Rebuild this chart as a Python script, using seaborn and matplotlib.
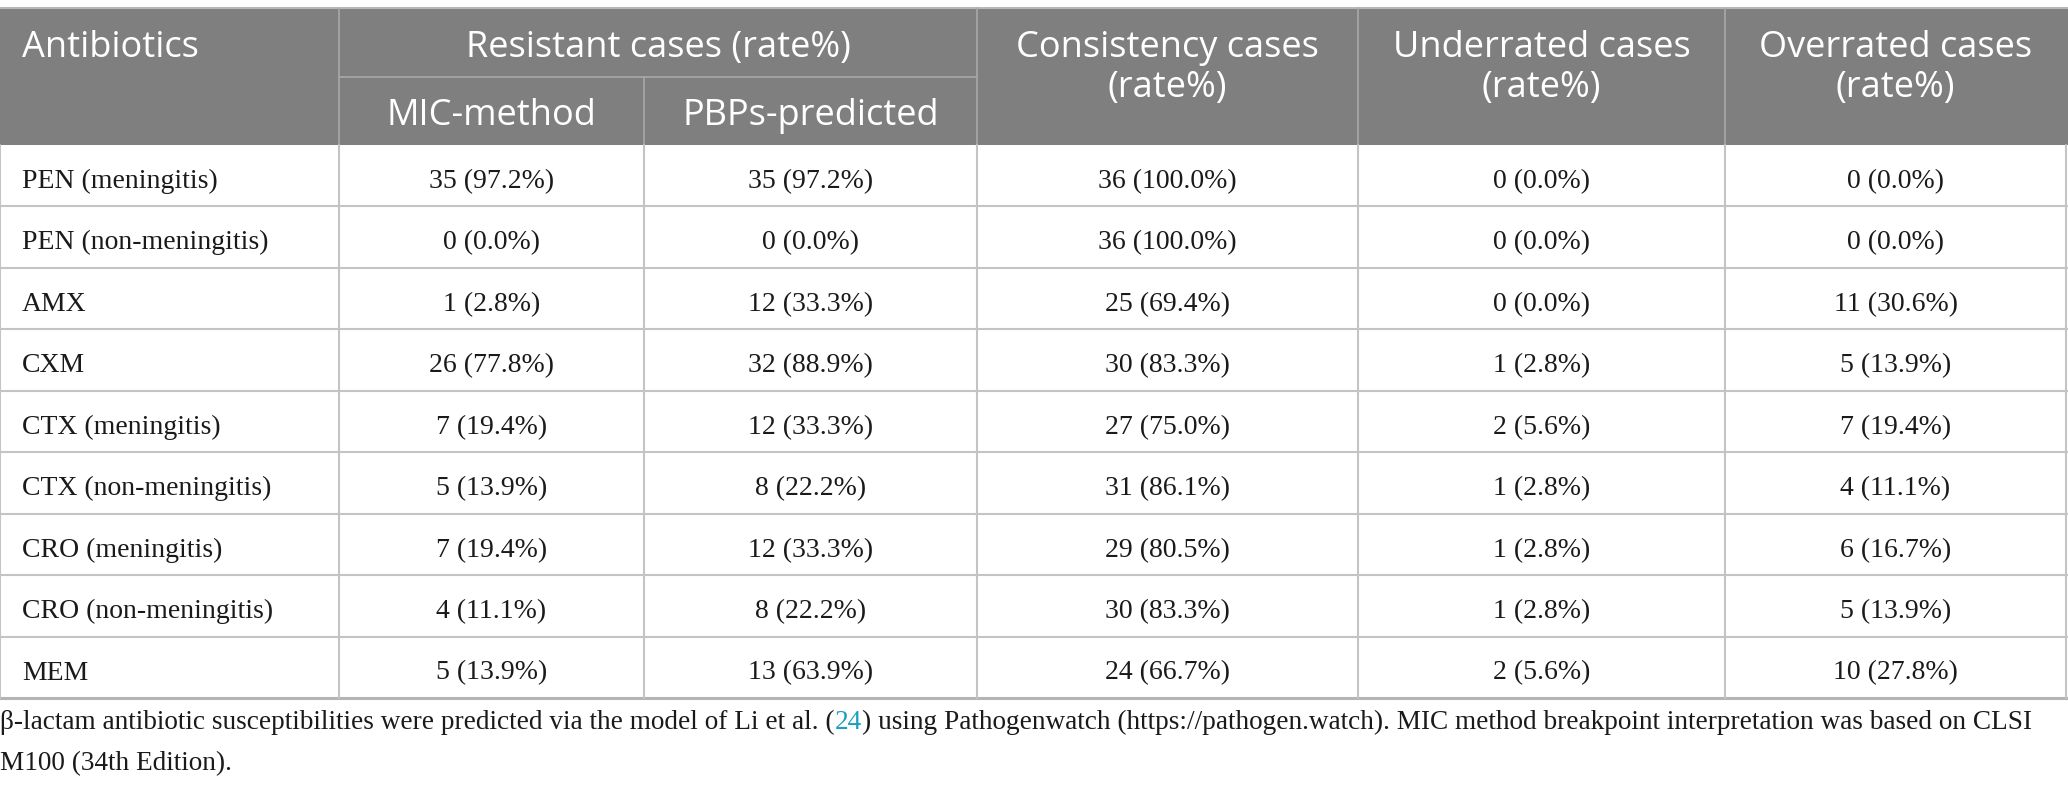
import matplotlib
matplotlib.use("Agg")
import matplotlib.pyplot as plt
from matplotlib.patches import Rectangle
import seaborn as sns

# ---------------- data ----------------
antibiotics = ["PEN (meningitis)", "PEN (non-meningitis)", "AMX", "CXM",
               "CTX (meningitis)", "CTX (non-meningitis)", "CRO (meningitis)",
               "CRO (non-meningitis)", "MEM"]
mic_n = [35, 0, 1, 26, 7, 5, 7, 4, 5]
mic_pct = [97.2, 0.0, 2.8, 77.8, 19.4, 13.9, 19.4, 11.1, 13.9]
pbp_n = [35, 0, 12, 32, 12, 8, 12, 8, 13]
pbp_pct = [97.2, 0.0, 33.3, 88.9, 33.3, 22.2, 33.3, 22.2, 63.9]
cons_n = [36, 36, 25, 30, 27, 31, 29, 30, 24]
cons_pct = [100.0, 100.0, 69.4, 83.3, 75.0, 86.1, 80.5, 83.3, 66.7]
under_n = [0, 0, 0, 1, 2, 1, 1, 1, 2]
under_pct = [0.0, 0.0, 0.0, 2.8, 5.6, 2.8, 2.8, 2.8, 5.6]
over_n = [0, 0, 11, 5, 7, 4, 6, 5, 10]
over_pct = [0.0, 0.0, 30.6, 13.9, 19.4, 11.1, 16.7, 13.9, 27.8]

header_first = "Antibiotics"
header_group = "Resistant cases (rate%)"
header_sub = ["MIC-method", "PBPs-predicted"]
header_right = [["Consistency cases", "(rate%)"], ["Underrated cases", "(rate%)"],
                ["Overrated cases", "(rate%)"]]
caption_parts = ["β-lactam antibiotic susceptibilities were predicted via the model of Li et al. (",
                 "24",
                 ") using Pathogenwatch (https://pathogen.watch). MIC method breakpoint interpretation was based on CLSI"]
caption_line2 = "M100 (34th Edition)."

# ---------------- style ----------------
sns.set_theme(style="white")
W, H = 2068, 792
fig = plt.figure(figsize=(W / 100, H / 100), dpi=100)
ax = fig.add_axes([0, 0, 1, 1])
ax.set_xlim(0, W)
ax.set_ylim(H, 0)
ax.axis("off")

HEAD_FONT = ["Open Sans", "DejaVu Sans"]
BODY_FONT = ["Liberation Serif", "DejaVu Serif"]
HEAD_BG = "#7f7f7f"
GRID = "#c4c4c4"
HEAD_LINE = "#a9a9a9"

col_x = [0, 339, 644, 977, 1358, 1725, 2066]
top, mid, head_bot = 8, 77, 145
row_h = (698 - head_bot) / 9
row_y = [head_bot + i * row_h for i in range(10)]

# header background
ax.add_patch(Rectangle((0, top), W, head_bot - top, facecolor=HEAD_BG, edgecolor="none"))
ax.plot([0, W], [top, top], color="#b8b8b8", lw=1.5)
# header separators
for x in col_x[1:-1]:
    y0 = top if x in (339, 977, 1358, 1725) else mid
    ax.plot([x, x], [y0, head_bot], color=HEAD_LINE, lw=1.2)
ax.plot([339, 977], [mid, mid], color=HEAD_LINE, lw=1.2)

hs = 26.0
b1, b2, b3 = 57, 97, 125
ax.text(22, b1, header_first, ha="left", va="baseline", color="white",
        fontsize=hs, family=HEAD_FONT)
ax.text((339 + 977) / 2, b1, header_group, ha="center", va="baseline",
        color="white", fontsize=hs, family=HEAD_FONT)
for i, t in enumerate(header_sub):
    ax.text((col_x[1 + i] + col_x[2 + i]) / 2, b3, t, ha="center",
            va="baseline", color="white", fontsize=hs, family=HEAD_FONT)
for i, (la, lb) in enumerate(header_right):
    xc = (col_x[3 + i] + col_x[4 + i]) / 2
    ax.text(xc, b1, la, ha="center", va="baseline", color="white", fontsize=hs,
            family=HEAD_FONT)
    ax.text(xc, b2, lb, ha="center", va="baseline", color="white", fontsize=hs,
            family=HEAD_FONT)

# body grid
for y in row_y[1:-1]:
    ax.plot([0, W], [y, y], color=GRID, lw=1.5)
ax.plot([0, W], [row_y[-1], row_y[-1]], color="#b4b4b4", lw=2.2)
for x in col_x:
    ax.plot([x, x], [head_bot, row_y[-1]], color=GRID, lw=1.5)

bs = 20
cols = [(mic_n, mic_pct), (pbp_n, pbp_pct), (cons_n, cons_pct),
        (under_n, under_pct), (over_n, over_pct)]
for r, name in enumerate(antibiotics):
    yb = row_y[r] + 43
    ax.text(22, yb, name, ha="left", va="baseline", color="#1a1a1a", fontsize=bs,
            family=BODY_FONT)
    for c, (ns, ps) in enumerate(cols):
        xc = (col_x[1 + c] + col_x[2 + c]) / 2
        ax.text(xc, yb, f"{ns[r]} ({ps[r]:.1f}%)", ha="center", va="baseline",
                color="#1a1a1a", fontsize=bs, family=BODY_FONT)

# caption
cs = 19.6
t1 = ax.text(0, 729, caption_parts[0], ha="left", va="baseline", color="#1a1a1a",
             fontsize=cs, family=BODY_FONT)
t2 = ax.annotate(caption_parts[1], xy=(1, 0), xycoords=t1, ha="left", va="bottom",
                 color="#1aa0bf", fontsize=cs, family=BODY_FONT)
t3 = ax.annotate(caption_parts[2], xy=(1, 0), xycoords=t2, ha="left", va="bottom",
                 color="#1a1a1a", fontsize=cs, family=BODY_FONT)
ax.text(0, 770, caption_line2, ha="left", va="baseline", color="#1a1a1a",
        fontsize=cs, family=BODY_FONT)

fig.savefig("out.png", dpi=100, facecolor="white")
